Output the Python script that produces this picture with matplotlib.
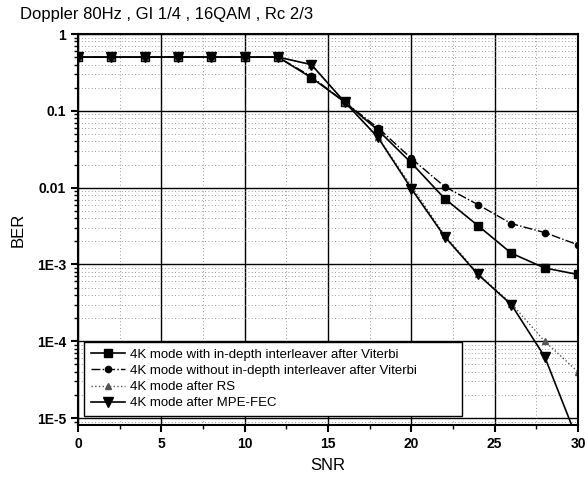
import matplotlib
matplotlib.use("Agg")
import matplotlib.pyplot as plt
from matplotlib.ticker import FixedLocator, LogLocator, NullFormatter, FixedFormatter

plt.rcParams["font.family"] = ["Liberation Sans", "DejaVu Sans"]

snr = [0, 2, 4, 6, 8, 10, 12, 14, 16, 18, 20, 22, 24, 26, 28, 30]
ber_interleaver = [0.5, 0.5, 0.5, 0.5, 0.5, 0.5, 0.5, 0.27, 0.13, 0.056, 0.021,
                   0.0072, 0.0032, 0.0014, 9e-4, 7.4e-4]
ber_no_interleaver = [0.5, 0.5, 0.5, 0.5, 0.5, 0.5, 0.5, 0.28, 0.13, 0.06, 0.024,
                      0.0103, 0.006, 0.0034, 0.0026, 0.0018]
ber_rs = [0.5, 0.5, 0.5, 0.5, 0.5, 0.5, 0.5, 0.4, 0.13, 0.045, 0.0105,
          0.0024, 7.6e-4, 3.1e-4, 1.0e-4, 4e-5]
ber_mpe = [0.5, 0.5, 0.5, 0.5, 0.5, 0.5, 0.5, 0.4, 0.13, 0.045, 0.0097,
           0.0023, 7.4e-4, 3.0e-4, 6.3e-5, 5e-6]

labels = ["4K mode with in-depth interleaver after Viterbi",
          "4K mode without in-depth interleaver after Viterbi",
          "4K mode after RS",
          "4K mode after MPE-FEC"]
title = "Doppler 80Hz , GI 1/4 , 16QAM , Rc 2/3"
y_ticks = [1, 0.1, 0.01, 1e-3, 1e-4, 1e-5]
y_tick_labels = ["1", "0.1", "0.01", "1E-3", "1E-4", "1E-5"]

fig = plt.figure(figsize=(5.88, 4.91), dpi=100)
ax = fig.add_axes([78 / 588, 1 - 425 / 491, 500 / 588, 391 / 491])

ax.plot(snr, ber_interleaver, "-", color="black", lw=1.2, marker="s", ms=5.5,
        label=labels[0])
ax.plot(snr, ber_no_interleaver, "-.", color="black", lw=1.0, marker="o", ms=4.5,
        label=labels[1])
ax.plot(snr, ber_rs, ":", color="#555555", lw=1.0, marker="^", ms=4.5,
        label=labels[2])
ax.plot(snr, ber_mpe, "-", color="black", lw=1.2, marker="v", ms=6.5,
        label=labels[3])

ax.set_yscale("log")
ax.set_xlim(0, 30)
ax.set_ylim(10 ** -5.09, 1)

ax.xaxis.set_major_locator(FixedLocator([0, 5, 10, 15, 20, 25, 30]))
ax.xaxis.set_minor_locator(FixedLocator([2.5, 7.5, 12.5, 17.5, 22.5, 27.5]))
ax.yaxis.set_major_locator(FixedLocator(y_ticks))
ax.yaxis.set_major_formatter(FixedFormatter(y_tick_labels))
ax.yaxis.set_minor_locator(LogLocator(base=10, subs=range(2, 10)))
ax.yaxis.set_minor_formatter(NullFormatter())

ax.grid(which="major", color="black", lw=1.0, ls="-")
ax.grid(which="minor", color="#777777", lw=0.6, ls=(0, (1, 3)))
ax.set_axisbelow(True)

ax.tick_params(which="major", direction="out", length=5, width=1.5,
               labelsize=10)
ax.tick_params(which="minor", direction="out", length=3, width=1.0)
for lab in ax.get_xticklabels() + ax.get_yticklabels():
    lab.set_fontweight("bold")
for sp in ax.spines.values():
    sp.set_linewidth(1.5)

ax.set_xlabel("SNR", fontsize=12, labelpad=5)
ax.set_ylabel("BER", fontsize=12, labelpad=8)
fig.text(20 / 588, 1 - 15 / 491, title, fontsize=12, va="center", ha="left")

leg = ax.legend(loc="lower left", bbox_to_anchor=(0.012, 0.023, 0.756, 0.19),
                mode="expand", fontsize=9.5, frameon=True, fancybox=False,
                borderaxespad=0, handlelength=2.6, labelspacing=0.3,
                borderpad=0.5, handletextpad=0.4)
leg.get_frame().set_edgecolor("black")
leg.get_frame().set_linewidth(1.0)
leg.get_frame().set_alpha(1)

fig.savefig("out.png", dpi=100)
